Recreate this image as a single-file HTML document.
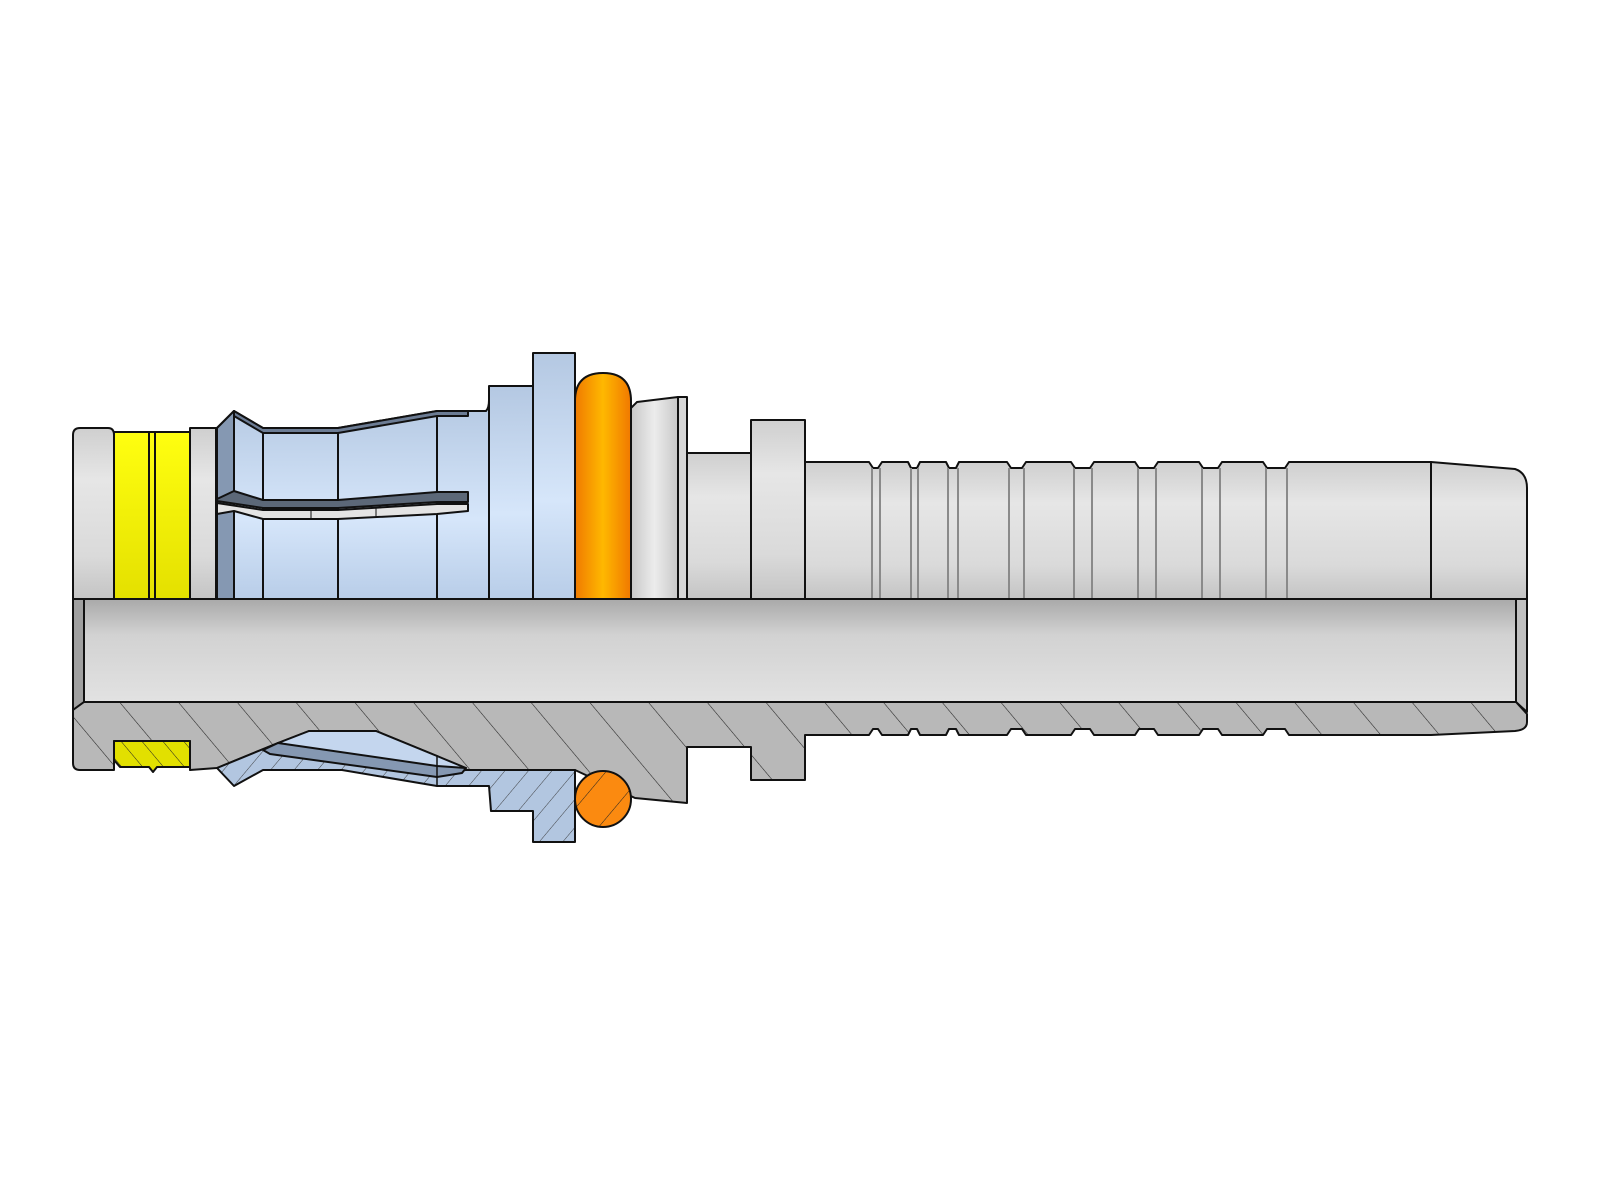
<!DOCTYPE html>
<html><head><meta charset="utf-8"><style>html,body{margin:0;padding:0;background:#fff}svg{display:block}</style></head>
<body>
<svg width="1600" height="1200" viewBox="0 0 1600 1200" xmlns="http://www.w3.org/2000/svg">
<defs>
<linearGradient id="gc" x1="0" y1="0" x2="0" y2="1">
<stop offset="0" stop-color="#cfcfcf"/><stop offset="0.3" stop-color="#e6e6e6"/><stop offset="0.75" stop-color="#dadada"/><stop offset="1" stop-color="#c4c4c4"/></linearGradient>
<linearGradient id="gh" x1="0" y1="0" x2="1" y2="0">
<stop offset="0" stop-color="#c8c8c8"/><stop offset="0.5" stop-color="#ececec"/><stop offset="1" stop-color="#c8c8c8"/></linearGradient>
<linearGradient id="gbore" x1="0" y1="0" x2="0" y2="1">
<stop offset="0" stop-color="#a9a9a9"/><stop offset="0.35" stop-color="#d2d2d2"/><stop offset="1" stop-color="#e2e2e2"/></linearGradient>
<linearGradient id="gy" x1="0" y1="0" x2="0" y2="1">
<stop offset="0" stop-color="#ffff10"/><stop offset="1" stop-color="#e4e000"/></linearGradient>
<linearGradient id="gbl" x1="0" y1="0" x2="0" y2="1">
<stop offset="0" stop-color="#b4c8e2"/><stop offset="0.6" stop-color="#d6e6fa"/><stop offset="1" stop-color="#b8cde8"/></linearGradient>
<linearGradient id="go" x1="0" y1="0" x2="1" y2="0">
<stop offset="0" stop-color="#f07a00"/><stop offset="0.5" stop-color="#ffb800"/><stop offset="1" stop-color="#f07800"/></linearGradient>
<pattern id="hg" width="45" height="45" patternUnits="userSpaceOnUse" patternTransform="rotate(-40)">
<rect width="45" height="45" fill="#b8b8b8"/><line x1="0" y1="0" x2="0" y2="45" stroke="#222" stroke-width="1.1"/></pattern>
<pattern id="hb" width="18" height="18" patternUnits="userSpaceOnUse" patternTransform="rotate(40)">
<rect width="18" height="18" fill="#b2c6e0"/><line x1="0" y1="0" x2="0" y2="18" stroke="#333" stroke-width="0.9"/></pattern>
<pattern id="hy" width="16" height="16" patternUnits="userSpaceOnUse" patternTransform="rotate(-40)">
<rect width="16" height="16" fill="#e2e000"/><line x1="0" y1="0" x2="0" y2="16" stroke="#222" stroke-width="1"/></pattern>
<pattern id="ho" width="30" height="30" patternUnits="userSpaceOnUse" patternTransform="rotate(40)">
<rect width="30" height="30" fill="#fb8a10"/><line x1="0" y1="0" x2="0" y2="30" stroke="#222" stroke-width="1"/></pattern>
</defs>
<g stroke="#111" stroke-width="2" stroke-linejoin="round">
<path d="M73,599 L73,435 Q73,428 80,428 L108,428 Q114,428 114,435 L114,599 Z" fill="url(#gc)"/>
<rect x="114" y="432" width="76" height="167" fill="url(#gy)"/>
<line x1="149" y1="432" x2="149" y2="599"/><line x1="155" y1="432" x2="155" y2="599"/>
<path d="M190,599 L190,428 L216,428 L216,599 Z" fill="url(#gc)"/>
<path d="M217,599 L217,428 L234,411 L263,428 L338,428 L437,411 L470,411 L486,411 Q489,408 489,400 L489,599 Z" fill="url(#gbl)"/>
<path d="M217,599 L217,428 L234,411 L234,599 Z" fill="#8598b2"/>
<path d="M234,411 L263,428 L338,428 L437,411 L468,411 L468,416 L437,416 L338,433 L263,433 L234,416 Z" fill="#6c7c94"/>
<line x1="263" y1="433" x2="263" y2="599"/><line x1="338" y1="433" x2="338" y2="599"/><line x1="437" y1="416" x2="437" y2="599"/>
<path d="M217,499 L234,491 L263,500 L338,500 L437,492 L468,492 L468,502 L437,502 L338,508 L263,508 L217,501 Z" fill="#5c6878"/>
<path d="M217,503 L263,510 L338,510 L437,504 L468,504 L468,511 L437,514 L338,519 L263,519 L234,511 L217,514 Z" fill="#e4e4e4"/>
<line x1="311" y1="510" x2="311" y2="519" stroke-width="1"/><line x1="376" y1="507" x2="376" y2="517" stroke-width="1"/>
<rect x="489" y="386" width="44" height="213" fill="url(#gbl)"/>
<rect x="533" y="353" width="42" height="246" fill="url(#gbl)"/>
<path d="M575,599 L575,401 Q575,373 603,373 Q631,373 631,401 L631,599 Z" fill="url(#go)"/>
<path d="M631,599 L631,408 L637,402 L678,397 L678,599 Z" fill="url(#gh)"/>
<rect x="678" y="397" width="9" height="202" fill="#d6d6d6"/>
<rect x="687" y="453" width="64" height="146" fill="url(#gc)"/>
<rect x="751" y="420" width="54" height="179" fill="url(#gc)"/>
<path d="M805,599 L805,462 L869,462 L873,468 L878,468 L882,462 L908,462 L911,468 L917,468 L920,462 L946,462 L949,468 L956,468 L959,462 L1007,462 L1011,468 L1022,468 L1026,462 L1071,462 L1075,468 L1090,468 L1094,462 L1135,462 L1139,468 L1154,468 L1158,462 L1199,462 L1203,468 L1218,468 L1222,462 L1263,462 L1267,468 L1285,468 L1289,462 L1431,462 L1431,599 Z" fill="url(#gc)"/>
<path d="M1431,599 L1431,462 L1515,469 Q1527,473 1527,488 L1527,599 Z" fill="url(#gc)"/>
<g stroke="#8a8a8a" stroke-width="2">
<line x1="872" y1="468" x2="872" y2="599"/><line x1="880" y1="468" x2="880" y2="599"/>
<line x1="911" y1="468" x2="911" y2="599"/><line x1="918" y1="468" x2="918" y2="599"/>
<line x1="948" y1="468" x2="948" y2="599"/><line x1="958" y1="468" x2="958" y2="599"/>
<line x1="1009" y1="468" x2="1009" y2="599"/><line x1="1024" y1="468" x2="1024" y2="599"/>
<line x1="1074" y1="468" x2="1074" y2="599"/><line x1="1092" y1="468" x2="1092" y2="599"/>
<line x1="1138" y1="468" x2="1138" y2="599"/><line x1="1156" y1="468" x2="1156" y2="599"/>
<line x1="1202" y1="468" x2="1202" y2="599"/><line x1="1220" y1="468" x2="1220" y2="599"/>
<line x1="1266" y1="468" x2="1266" y2="599"/><line x1="1287" y1="468" x2="1287" y2="599"/>
</g>
<rect x="73" y="599" width="1454" height="103" fill="url(#gbore)"/>
<path d="M73,599 L84,599 L84,702 L73,710 Z" fill="#a0a0a0"/>
<path d="M1516,599 L1527,599 L1527,712 L1516,702 Z" fill="#c0c0c0"/>
<path d="M73,710 L84,702 L1516,702 L1527,714 L1527,722 Q1527,730 1515,731 L1431,735 L1289,735 L1285,729 L1267,729 L1263,735 L1222,735 L1218,729 L1203,729 L1199,735 L1158,735 L1154,729 L1139,729 L1135,735 L1094,735 L1090,729 L1075,729 L1071,735 L1026,735 L1022,729 L1011,729 L1007,735 L959,735 L956,729 L949,729 L946,735 L920,735 L917,729 L911,729 L908,735 L882,735 L878,729 L873,729 L869,735 L805,735 L805,780 L751,780 L751,747 L687,747 L687,803 L635,798 L575,770 L466,770 L437,756 L376,731 L309,731 L278,743 L217,768 L190,770 L190,741 L114,741 L114,770 L80,770 Q73,770 73,763 Z" fill="url(#hg)"/>
<path d="M114,741 L190,741 L190,767 L157,767 L153,772 L149,767 L120,767 L114,760 Z" fill="url(#hy)"/>
<path d="M217,768 L278,743 L437,772 L466,770 L575,770 L575,842 L533,842 L533,811 L491,811 L489,786 L437,786 L342,770 L263,770 L234,786 Z" fill="url(#hb)"/>
<path d="M278,743 L309,731 L376,731 L437,756 L466,768 L437,771 Z" fill="#c4d6ee"/>
<path d="M263,750 L278,743 L437,766 L466,768 L462,773 L437,777 L270,754 Z" fill="#8598b2"/>
<line x1="437" y1="756" x2="437" y2="786" stroke-width="1.5"/>
<circle cx="603" cy="799" r="28" fill="url(#ho)"/>
<line x1="73" y1="599" x2="1527" y2="599"/>
</g>
</svg>
</body></html>
